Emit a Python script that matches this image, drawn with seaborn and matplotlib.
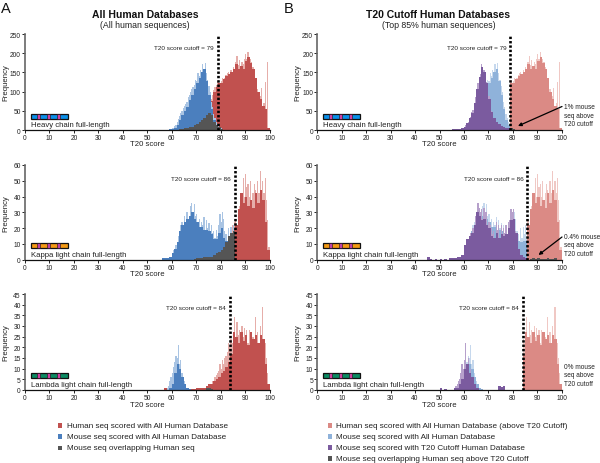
import numpy as np
import matplotlib
matplotlib.use("Agg")
import matplotlib.pyplot as plt
from matplotlib.patches import Rectangle
import seaborn as sns

sns.set_theme(style="white")
plt.rcParams['font.family'] = ['Liberation Sans', 'DejaVu Sans']

W, H = 600, 464

# ---- data: (first score, values); body arrays 1 score wide, peak arrays 0.5 score wide
H_HUMAN_BODY = (73, [3, 12, 40, 75, 100, 112, 122, 122, 132, 140, 146, 150, 158, 172, 160, 166, 160, 180, 190, 175, 160, 135, 100, 82, 62, 55, 4])
H_HUMAN_PEAK = (73, [4, 8, 14, 22, 45, 60, 82, 92, 105, 112, 118, 125, 130, 118, 128, 135, 126, 135, 142, 148, 150, 138, 155, 148, 165, 158, 178, 192, 170, 182, 165, 178, 172, 185, 198, 186, 202, 190, 185, 178, 165, 150, 135, 118, 108, 95, 88, 110, 60, 70, 125, 50, 178, 0])
H_MOUSE_BODY = (58, [1, 2, 3, 6, 12, 25, 40, 50, 60, 78, 90, 108, 122, 135, 150, 160, 128, 92, 55, 25, 12, 6, 3, 1])
H_MOUSE_PEAK = (59, [2, 3, 4, 6, 10, 14, 20, 28, 36, 44, 50, 58, 62, 68, 72, 85, 92, 98, 108, 112, 118, 130, 128, 148, 140, 155, 150, 172, 160, 175, 148, 130, 115, 98, 72, 60, 42, 30, 22, 16, 10, 8, 5, 3])
H_OVERLAP = (62, [1, 2, 3, 4, 5, 7, 9, 12, 15, 20, 25, 32, 38, 45, 40, 22, 12, 7, 3, 1])
H_PURPLE_BODY = (53, [1, 1, 2, 2, 3, 3, 4, 8, 18, 30, 45, 70, 108, 138, 165, 150, 122, 82, 48, 30, 22, 15, 10, 8, 6, 4, 2])
H_PURPLE_PEAK = (60, [8, 12, 18, 22, 30, 34, 46, 52, 70, 86, 108, 122, 138, 145, 172, 160, 155, 150, 125, 118, 88, 78, 50, 42, 30, 26, 22, 18, 15, 12, 10, 8])
H_ABOVE = (79, [6, 3, 1])

K_HUMAN_BODY = (78, [2, 3, 5, 6, 8, 12, 17, 20, 22, 32, 42, 36, 40, 34, 38, 33, 42, 36, 44, 38, 24, 6])
K_HUMAN_PEAK = (80, [5, 6, 7, 8, 9, 10, 12, 15, 18, 22, 20, 24, 26, 20, 28, 34, 42, 32, 52, 40, 54, 46, 48, 40, 50, 38, 42, 48, 44, 40, 50, 42, 56, 44, 50, 42, 52, 38, 25, 8])
K_MOUSE_BODY = (56, [1, 1, 1, 2, 4, 7, 11, 18, 22, 24, 26, 28, 30, 26, 24, 21, 21, 19, 19, 18, 16, 13, 13, 17, 20, 14, 12, 11, 12, 12])
K_MOUSE_PEAK = (60, [3, 6, 5, 9, 10, 15, 18, 22, 24, 20, 28, 24, 30, 22, 27, 34, 36, 30, 35, 28, 29, 24, 26, 20, 24, 22, 27, 19, 25, 20, 23, 18, 22, 17, 18, 14, 19, 15, 22, 29, 24, 30, 26, 18, 16, 12, 20, 14, 21, 16, 22, 13])
K_OVERLAP = (69, [0.5, 1, 1, 1, 1.5, 1.5, 2, 2, 3, 4, 5, 6, 8, 11, 15, 17, 18])
K_PURPLE_BODY = (45, [1.5, 0.5, 0, 0.5, 0, 0.5, 0, 0.5, 0, 1, 1, 1, 1.5, 2, 3, 9, 13, 15, 17, 22, 30, 28, 25, 26, 22, 20, 15, 14, 17, 14, 16, 15, 16, 20, 25, 26, 17, 7, 3, 2, 1, 0.5])
K_PURPLE_PEAK = (60, [3, 4, 9, 13, 12, 17, 15, 20, 21, 28, 30, 36, 33, 30, 32, 26, 33, 30, 30, 22, 24, 22, 20, 16, 18, 14, 24, 19, 22, 14, 22, 16, 20, 17, 22, 16, 24, 25, 32, 30, 32, 22, 18, 8, 6, 4, 3, 2, 2, 1])
K_ABOVE = (87, [0.5, 0.8, 0.3, 0.8, 0.4, 0.5, 0.3, 0.8, 0.3, 0.5, 0.8])

L_HUMAN_BODY = (57, [1, 0.5, 0, 0, 0, 0, 0, 0.5, 1, 1, 0.5, 0.5, 0.5, 1, 1, 1, 1, 2, 3, 3, 4, 5, 6, 8, 9, 11, 13, 17, 27, 25, 22, 27, 23, 26, 21, 27, 24, 26, 22, 26, 24, 12, 3])
L_HUMAN_PEAK = (76, [3, 4, 4, 6, 7, 8, 9, 12, 10, 14, 12, 15, 16, 18, 22, 20, 24, 22, 26, 34, 24, 32, 26, 28, 24, 30, 25, 29, 24, 28, 22, 28, 24, 25, 25, 22, 34, 25, 27, 21, 30, 22, 39, 22, 22, 15, 8, 3])
L_MOUSE_BODY = (59, [1, 3, 8, 12, 10, 6, 3, 1, 0.5])
L_MOUSE_PEAK = (58, [1, 2, 4, 6, 8, 11, 13, 16, 15, 21, 12, 14, 8, 6, 4, 3, 1, 1])
L_OVERLAP = (74, [1, 1, 0.5])
L_PURPLE_BODY = (50, [1, 0, 0.5, 0, 0, 0, 1, 1, 3, 5, 10, 12, 8, 6, 3, 1, 0, 0, 0, 0, 0, 0, 0, 0, 2, 1.5, 2])
L_PURPLE_PEAK = (56, [1, 2, 3, 4, 5, 8, 12, 10, 14, 22, 12, 15, 8, 10, 6, 4, 2, 1])

CUTOFFS = [79, 86, 84]
Y_MAX = [250, 60, 45]
Y_STEP = [50, 10, 5]
CHAIN_NAMES = ["Heavy chain full-length", "Kappa light chain full-length", "Lambda light chain full-length"]
NOTES = ["1% mouse\nseq above\nT20 cutoff", "0.4% mouse\nseq above\nT20 cutoff", "0% mouse\nseq above\nT20 cutoff"]
LEGEND_A = ["Human seq scored with All Human Database", "Mouse seq scored with All Human Database", "Mouse seq overlapping Human seq"]
LEGEND_B = ["Human seq scored with All Human Database (above T20 Cutoff)", "Mouse seq scored with All Human Database",
            "Mouse seq scored with T20 Cutoff Human Database", "Mouse seq overlapping Human seq above T20 Cutoff"]

RED, RED_L = "#c1514f", "#e6aeaa"
BLUE, BLUE_L = "#4b7fbe", "#a9c4e3"
GRAY = "#555555"
PINK, PINK_L = "#db8a85", "#f0c8c4"
SKY, SKY_L = "#8fb2da", "#c6d8ed"
PURP, PURP_L = "#7b5b9f", "#b6a0cb"

BOX_COLORS = [("#0a8fe8", "#d040a0"), ("#f39a14", "#c040a8"), ("#0b8a62", "#d040a0")]
BOX_Y = [0.115, 0.127, 0.128]

fig = plt.figure(figsize=(W / 100, H / 100), dpi=100, facecolor="white")


def fx(p):
    return p / W


def fy(p):
    return 1 - p / H


def hist(ax, series, width, color, min_score=None):
    start, vals = series
    vals = np.asarray(vals, float)
    scores = start + (np.arange(len(vals)) + 0.5) * width
    if min_score is not None:
        keep = scores >= min_score
        scores, vals = scores[keep], vals[keep]
    sns.histplot(x=scores, weights=vals, binwidth=width, binrange=(0, 100), element="step",
                 color=color, alpha=1, linewidth=0, legend=False, ax=ax)


def make_axes(left, right, y0, y1, row):
    ax = fig.add_axes([fx(left), fy(y0), fx(right - left), (y0 - y1) / H])
    return ax


def finish(ax, row, note_x=None):
    cut = CUTOFFS[row]
    ax.set_xlim(0, 100)
    ax.set_ylim(0, Y_MAX[row])
    ax.set_xticks(np.arange(0, 101, 10))
    ax.set_yticks(np.arange(0, Y_MAX[row] + 1, Y_STEP[row]))
    ax.tick_params(axis="both", labelsize=4.8, length=2, width=0.7, pad=1, color="#222222", labelcolor="#222222",
                   bottom=True, left=True)
    ax.set_xlabel("T20 score", fontsize=5.6, color="#222222")
    ax.set_ylabel("Frequency", fontsize=5.6, color="#222222")
    ax.patch.set_alpha(0)
    for s in ("top", "right"):
        ax.spines[s].set_visible(False)
    ax.spines["left"].set_color("#666666")
    ax.spines["left"].set_linewidth(1.2)
    ax.spines["bottom"].set_color("#111111")
    ax.spines["bottom"].set_linewidth(0.9)
    ax.plot([cut, cut], [0, Y_MAX[row] * 0.985], color="black", lw=1.9, linestyle=(0, (0.9, 0.75)), zorder=6)
    ax.text(cut - 1.7, Y_MAX[row] * 0.86, f"T20 score cutoff = {cut}", ha="right", va="center", fontsize=4.6, color="#222222")
    # sequence cartoon
    box_x0, box_w, box_y, box_h = 0.0235, 0.151, BOX_Y[row], 0.052
    c1, c2 = BOX_COLORS[row]
    ax.add_patch(Rectangle((box_x0, box_y), box_w, box_h, transform=ax.transAxes, fc=c1, ec="#111111", lw=0.9, zorder=5))
    for k in (0.16, 0.43, 0.70):
        ax.add_patch(Rectangle((box_x0 + box_w * k, box_y), box_w * 0.09, box_h, transform=ax.transAxes, fc=c2, ec="#111111", lw=0.4, zorder=5))
    ax.text(box_x0, 0.018, CHAIN_NAMES[row], transform=ax.transAxes, ha="left", va="bottom", fontsize=5.6, color="#222222")


rows = [(131, 35), (260.7, 166), (391, 295)]
label_y = [145, 275, 406]

# ---- panel A
series_a = [
    (H_HUMAN_PEAK, H_MOUSE_PEAK, H_HUMAN_BODY, H_MOUSE_BODY, H_OVERLAP),
    (K_HUMAN_PEAK, K_MOUSE_PEAK, K_HUMAN_BODY, K_MOUSE_BODY, K_OVERLAP),
    (L_HUMAN_PEAK, L_MOUSE_PEAK, L_HUMAN_BODY, L_MOUSE_BODY, L_OVERLAP),
]
for row, (hp, mp, hb, mb, ov) in enumerate(series_a):
    ax = make_axes(25, 269.5, rows[row][0], rows[row][1], row)
    hist(ax, hp, 0.5, RED_L)
    hist(ax, hb, 1, RED)
    hist(ax, mp, 0.5, BLUE_L)
    hist(ax, mb, 1, BLUE)
    hist(ax, ov, 1, GRAY)
    finish(ax, row)
    ax.xaxis.set_label_coords(0.5, -(label_y[row] - rows[row][0]) / (rows[row][0] - rows[row][1]), transform=ax.transAxes)
    ax.xaxis.label.set_va("center")
    ax.yaxis.set_label_coords((5.5 - 25) / 244.5, 0.5, transform=ax.transAxes)
    ax.yaxis.label.set_va("center")

# ---- panel B
series_b = [
    (H_HUMAN_PEAK, H_MOUSE_PEAK, H_HUMAN_BODY, H_MOUSE_BODY, H_PURPLE_PEAK, H_PURPLE_BODY, H_ABOVE),
    (K_HUMAN_PEAK, K_MOUSE_PEAK, K_HUMAN_BODY, K_MOUSE_BODY, K_PURPLE_PEAK, K_PURPLE_BODY, K_ABOVE),
    (L_HUMAN_PEAK, L_MOUSE_PEAK, L_HUMAN_BODY, L_MOUSE_BODY, L_PURPLE_PEAK, L_PURPLE_BODY, None),
]
for row, (hp, mp, hb, mb, pp, pb, ab) in enumerate(series_b):
    ax = make_axes(317.3, 561.7, rows[row][0], rows[row][1], row)
    cut = CUTOFFS[row]
    hist(ax, mp, 0.5, SKY_L)
    hist(ax, mb, 1, SKY)
    hist(ax, pp, 0.5, PURP_L)
    hist(ax, pb, 1, PURP)
    hist(ax, hp, 0.5, PINK_L, min_score=cut)
    hist(ax, hb, 1, PINK, min_score=cut)
    if ab is not None:
        hist(ax, ab, 1, GRAY)
    finish(ax, row)
    ax.xaxis.set_label_coords(0.5, -(label_y[row] - rows[row][0]) / (rows[row][0] - rows[row][1]), transform=ax.transAxes)
    ax.xaxis.label.set_va("center")
    ax.yaxis.set_label_coords((298 - 317.3) / 244.4, 0.5, transform=ax.transAxes)
    ax.yaxis.label.set_va("center")

# ---- titles
for x, t, s in [(145, "All Human Databases", "(All human sequences)"), (438.5, "T20 Cutoff Human Databases", "(Top 85% human sequences)")]:
    fig.text(fx(x), fy(15.5), t, ha="center", va="center", fontsize=7.5, fontweight="bold", color="#111111")
    fig.text(fx(x), fy(26), s, ha="center", va="center", fontsize=6.3, color="#222222")
fig.text(fx(0.5), fy(9), "A", ha="left", va="center", fontsize=10.5, color="#111111")
fig.text(fx(284), fy(9), "B", ha="left", va="center", fontsize=10.5, color="#111111")

# ---- side notes and arrows
for y, note in zip((116, 246, 376), NOTES):
    fig.text(fx(564), fy(y), note, ha="left", va="center", fontsize=4.7, linespacing=1.25, color="#222222")
for tail, head in [((562, 107.5), (518, 127)), ((562, 238), (538.5, 256))]:
    fig.add_artist(matplotlib.patches.FancyArrowPatch(
        (fx(tail[0]), fy(tail[1])), (fx(head[0]), fy(head[1])), transform=fig.transFigure,
        arrowstyle="-|>", mutation_scale=5, lw=0.9, color="black", shrinkA=0, shrinkB=0, zorder=10))

# ---- legends
for x_sq, x_txt, ys, labels, colors in [
    (58, 66.7, (426.7, 437.8, 449), LEGEND_A, (RED, BLUE, GRAY)),
    (328, 336, (426.7, 437.7, 448.7, 459.7), LEGEND_B, (PINK, SKY, PURP, GRAY)),
]:
    for y, lab, col in zip(ys, labels, colors):
        fig.add_artist(Rectangle((fx(x_sq), fy(y + 2)), 4.5 / W, 4.5 / H, transform=fig.transFigure, fc=col, ec="none"))
        fig.text(fx(x_txt), fy(y), lab, ha="left", va="center", fontsize=5.9, color="#222222")

fig.savefig("out.png", dpi=100)
